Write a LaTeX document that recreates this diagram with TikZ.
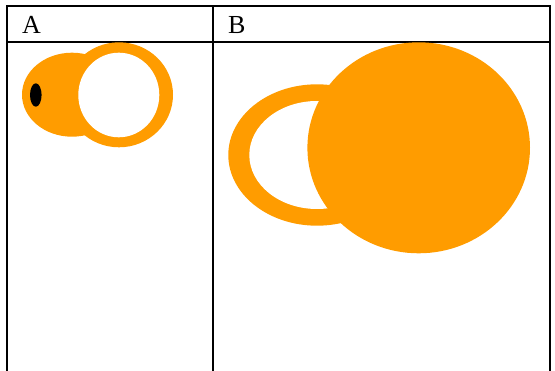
\documentclass[tikz,border=0pt]{standalone}
\usepackage{fontspec}
\setmainfont{Liberation Serif}
\definecolor{fishorange}{RGB}{255,156,0}
\tikzset{
  rule/.style={line width=2pt},
  blob/.style={fill=fishorange,draw=none},
  hole/.style={fill=white,draw=none},
  eye/.style={fill=black,draw=none},
  head/.style={anchor=base west,inner sep=0pt,font=\fontsize{26}{30}\selectfont}
}

\begin{document}
\begin{tikzpicture}[x=1pt,y=-1pt]
\useasboundingbox (0,0) rectangle (555,371);
% table
\draw[rule] (6.7,371) -- (6.7,5.7) -- (549.5,5.7) -- (549.5,371);
\draw[rule] (212.8,5.7) -- (212.8,371);
\draw[rule] (6.7,41.7) -- (549.5,41.7);
\node[head] (hA) at (22,33.3) {A};
\node[head] (hB) at (228,33.3) {B};
% panel A
\fill[blob] (72,94.7) ellipse [x radius=50, y radius=42];
\fill[blob] (119,94.8) ellipse [x radius=54, y radius=52.5];
\fill[hole] (118.8,95) ellipse [x radius=40.5, y radius=42.3];
\fill[eye] (35.8,95) ellipse [x radius=5.8, y radius=11.7];
% panel B
\fill[blob] (317,155) ellipse [x radius=88.7, y radius=70.7];
\fill[hole] (317,155) ellipse [x radius=67.7, y radius=54];
\fill[blob] (418.7,147.8) ellipse [x radius=111.3, y radius=105.5];
\end{tikzpicture}
\end{document}
